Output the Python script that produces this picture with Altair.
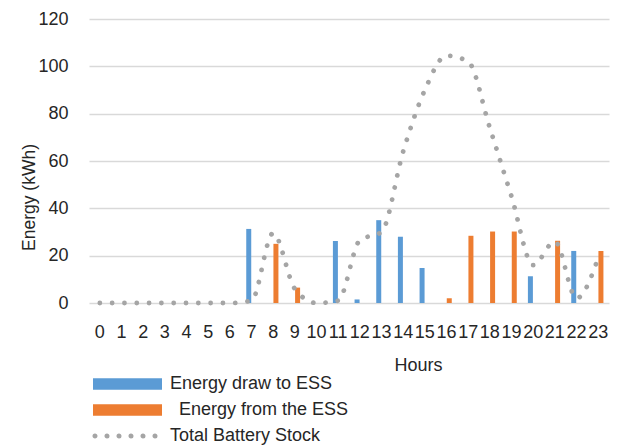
import altair as alt
import pandas as pd

hours = list(range(24))
draw_to_ess = [0, 0, 0, 0, 0, 0, 0, 31.3, 0, 0, 0, 26.2, 1.5, 35, 28, 14.8, 0, 0, 0, 0, 11.3, 0, 22, 0]
from_ess = [0, 0, 0, 0, 0, 0, 0, 0, 25, 6.5, 0, 0, 0, 0, 0, 0, 2, 28.4, 30.2, 30.2, 0, 26.3, 0, 22]
battery_stock = [0, 0, 0, 0, 0, 0, 0, 1, 29.5, 6, 0, 1, 26.5, 30, 64, 90, 104.5, 102, 74, 45, 16, 26, 2, 19]
y_ticks = [0, 20, 40, 60, 80, 100, 120]

# the second label starts with spaces in the reference (zero-width space keeps them)
series_names = ["Energy draw to ESS", "\u200b\u2002Energy from the ESS"]
line_name = "Total Battery Stock"
BLUE, ORANGE, GRAY = "#5b9bd5", "#ed7d31", "#a5a5a5"
FONT = "Liberation Sans"
TEXT = "#262626"

rows = []
for h, a, b in zip(hours, draw_to_ess, from_ess):
    if a > 0:
        rows.append({"hour": h, "series": series_names[0], "value": a})
    if b > 0:
        rows.append({"hour": h, "series": series_names[1], "value": b})
bars_df = pd.DataFrame(rows)
line_df = pd.DataFrame({"hour": hours, "value": battery_stock, "name": line_name})

xscale = alt.Scale(domain=hours, paddingInner=0.49, paddingOuter=0.245)
yscale = alt.Scale(domain=[0, 120])

x_axis = alt.Axis(
    title="Hours", labelAngle=0, ticks=False, tickSize=0, domain=False, grid=False,
    labelFontSize=18, labelColor=TEXT, labelPadding=20, labelOverlap=False,
    titleFontSize=18, titleFontWeight="normal", titleColor=TEXT,
    titleX=329, titleY=62, titleAlign="center", titleBaseline="middle",
)
y_axis = alt.Axis(
    title="Energy (kWh)", values=y_ticks, ticks=False, tickSize=0, domain=False,
    gridColor="#d9d9d9", gridWidth=1.3,
    labelFontSize=18, labelColor=TEXT, labelPadding=21,
    titleFontSize=17.5, titleFontWeight="normal", titleColor=TEXT,
    titleX=-60, titleY=178, titleAlign="center", titleBaseline="middle", titleAngle=270,
)

# legend symbols (unit = 6 px with symbolSize 144)
rect_path = "M-1,-0.96H10.5V0.96H-1Z"
dot_xs = [-0.667, 1.333, 3.333, 5.333, 7.333, 9.333]
r = 0.2
dots_path = "".join(
    f"M{cx - r:.3f},0A{r},{r} 0 1,0 {cx + r:.3f},0A{r},{r} 0 1,0 {cx - r:.3f},0Z" for cx in dot_xs
)

bars = alt.Chart(bars_df).mark_bar(width=5).encode(
    x=alt.X("hour:O", scale=xscale, axis=x_axis),
    xOffset=alt.XOffset("series:N", scale=alt.Scale(domain=series_names)),
    y=alt.Y("value:Q", scale=yscale, axis=y_axis),
    fill=alt.Fill(
        "series:N",
        scale=alt.Scale(domain=series_names, range=[BLUE, ORANGE]),
        legend=alt.Legend(
            title=None, orient="none", legendX=1, legendY=356, direction="vertical",
            symbolType=rect_path, symbolSize=144, symbolStrokeWidth=0,
            labelFontSize=18, labelColor=TEXT, labelFont=FONT, labelOffset=62,
            labelLimit=400, padding=0, rowPadding=8,
        ),
    ),
)

line = alt.Chart(line_df).mark_line(
    strokeWidth=4.8, strokeDash=[0.01, 12.3], strokeCap="round", interpolate="monotone"
).encode(
    x=alt.X("hour:O", scale=xscale, bandPosition=0.5),
    y=alt.Y("value:Q", scale=yscale),
    stroke=alt.Stroke(
        "name:N",
        scale=alt.Scale(domain=[line_name], range=[GRAY]),
        legend=alt.Legend(
            title=None, orient="none", legendX=1, legendY=408,
            symbolType=dots_path, symbolSize=144, symbolStrokeWidth=2.6,
            symbolFillColor=GRAY, symbolDash=[100, 0],
            labelFontSize=18, labelColor=TEXT, labelFont=FONT, labelOffset=62,
            labelLimit=400, padding=0,
        ),
    ),
)

chart = alt.layer(bars, line).resolve_scale(fill="independent", stroke="independent").properties(
    width=520, height=284,
    autosize=alt.AutoSizeParams(type="none"),
    padding={"left": 89, "top": 19, "right": 10, "bottom": 145},
).configure(font=FONT).configure_view(stroke=None)

chart.save("out.html", embed_options={"renderer": "svg", "actions": False})
